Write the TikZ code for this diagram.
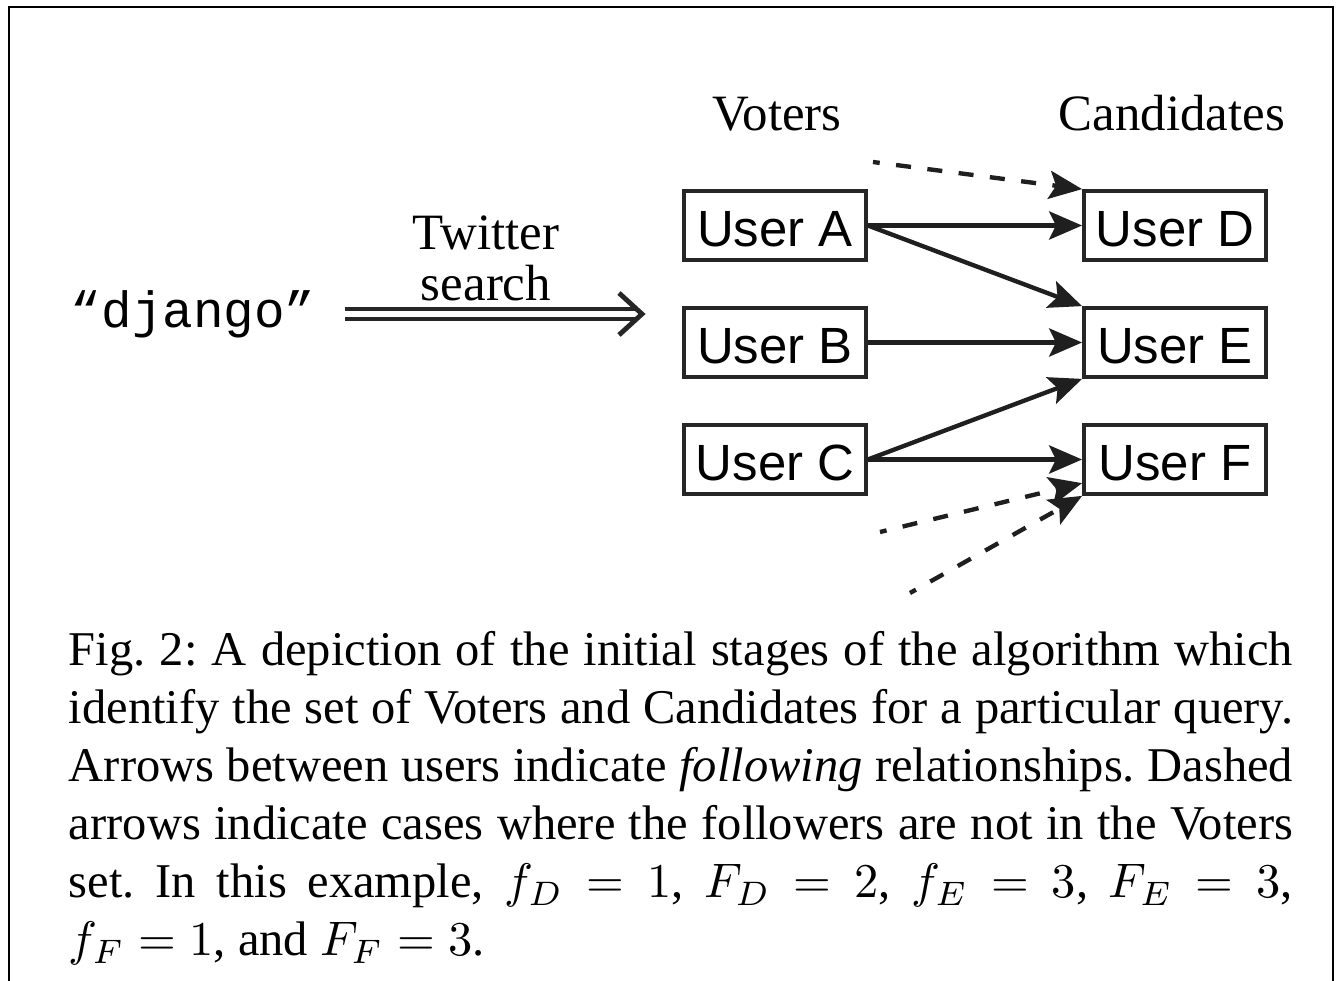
\documentclass[tikz,border=0pt]{standalone}
\usepackage{fontspec}
\setmainfont{Liberation Serif}
\setsansfont{Liberation Sans}
\setmonofont{Liberation Mono}
\usetikzlibrary{arrows.meta,calc}
\frenchspacing
\begin{document}
\begin{tikzpicture}[x=0.20619pt,y=-0.20619pt,
  userbox/.style={draw=black!85, line width=0.8pt, minimum width=37.5pt,
    minimum height=14.2pt, inner sep=0pt, text height=8.6pt, text depth=0pt,
    font=\sffamily\fontsize{10.5}{12}\selectfont},
  header/.style={font=\fontsize{10.5}{12}\selectfont, inner sep=0pt, anchor=base},
  follow/.style={draw=black!88, line width=0.9pt,
    -{Stealth[length=6.8pt,width=5.8pt,inset=1.4pt]}},
  outside/.style={follow, dash pattern=on 3.1pt off 3.4pt, dash phase=1.7pt},
  searchline/.style={draw=black!85, line width=1pt}
]
\useasboundingbox (0,0) rectangle (1340,981);
% frame
\draw[line width=0.45pt] (9,981) -- (9,7) -- (1333,7) -- (1333,981);

% headers
\node[header] (voters) at (777,130) {Voters};
\node[header] (cands) at (1172,130) {Candidates};

% users
\node[userbox] (A) at (775,225.5) {User A};
\node[userbox] (B) at (775,342.5) {User B};
\node[userbox] (C) at (775,459.5) {User C};
\node[userbox] (D) at (1175,225.5) {User D};
\node[userbox] (E) at (1175,342.5) {User E};
\node[userbox] (F) at (1175,459.5) {User F};

% query and search
\node[font=\ttfamily\fontsize{10.5}{12}\selectfont, anchor=base west, inner sep=0pt]
  (query) at (70,327) {“django”};
\node[align=center, font=\fontsize{10.5}{10.5}\selectfont, inner sep=0pt]
  (tw) at (486,258) {Twitter\\search};
\coordinate (s0) at (345,314);
\coordinate (s1) at (642,314);
\draw[searchline] ($(s0)+(0,-5)$) -- ($(s1)+(-6,-5)$);
\draw[searchline] ($(s0)+(0,5)$) -- ($(s1)+(-6,5)$);
\draw[searchline, miter limit=10] ($(s1)+(-23,-21)$) -- (s1) -- ($(s1)+(-23,21)$);

% following arrows
\draw[follow] (A.east) -- (D.west);
\draw[follow] (A.east) -- (E.north west);
\draw[follow] (B.east) -- (E.west);
\draw[follow] (C.east) -- (E.south west);
\draw[follow] (C.east) -- (F.west);

% dashed arrows
\coordinate (o1) at (873,162);
\coordinate (o2) at (880,532);
\coordinate (o3) at (910,593);
\draw[outside] (o1) -- (D.north west);
\draw[outside] (o2) -- ($(F.south west)!0.35!(F.west)$);
\draw[outside] (o3) -- (F.south west);

% caption
\node[anchor=base west, inner sep=0pt, text width=252.4pt, align=justify,
  font=\fontsize{10}{12}\selectfont] (cap) at (68,665)
{\thickmuskip=5mu plus 2.5mu\relax
Fig.\ 2: A depiction of the initial stages of the algorithm which\linebreak
identify the set of Voters and Candidates for a particular query.\linebreak
Arrows between users indicate \textit{following} relationships. Dashed\linebreak
arrows indicate cases where the followers are not in the Voters\linebreak
set. In this example, $f_D = 1$, $F_D = 2$, $f_E = 3$, $F_E = 3$,\linebreak
$f_F = 1$, and $F_F = 3$.};
\end{tikzpicture}
\end{document}
